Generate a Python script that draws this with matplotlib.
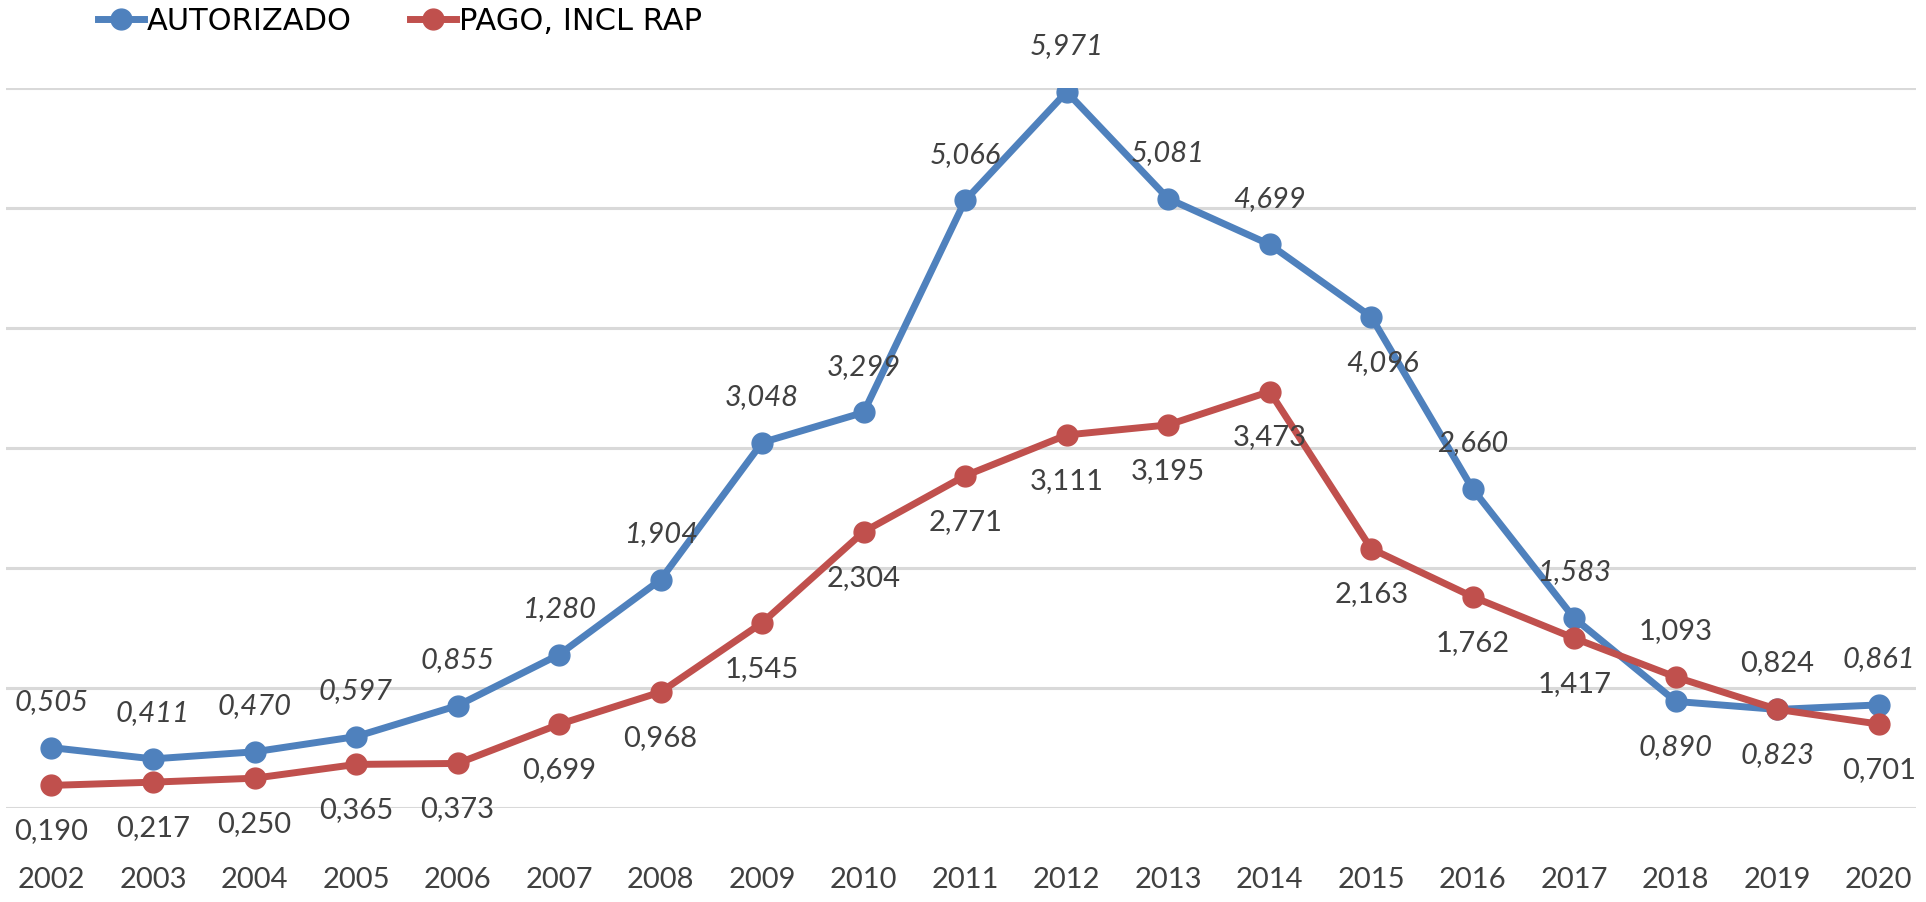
import numpy as np
import matplotlib.pyplot as plt
from matplotlib.lines import Line2D

# data
years = [str(y) for y in range(2002, 2021)]
autorizado = [0.505, 0.411, 0.470, 0.597, 0.855, 1.280, 1.904, 3.048, 3.299, 5.066,
              5.971, 5.081, 4.699, 4.096, 2.660, 1.583, 0.890, 0.823, 0.861]
pago = [0.190, 0.217, 0.250, 0.365, 0.373, 0.699, 0.968, 1.545, 2.304, 2.771,
        3.111, 3.195, 3.473, 2.163, 1.762, 1.417, 1.093, 0.824, 0.701]

# label side: +1 above, -1 below
aut_side = [1] * 13 + [-1, 1, 1, -1, -1, 1]
pago_side = [-1] * 16 + [1, 1, -1]

blue = '#4F81BD'
red = '#C0504D'
txt = '#404040'
font = ['Lato', 'DejaVu Sans']


def fmt(v):
    return f'{v:.3f}'.replace('.', ',')


def main():
    fig = plt.figure(figsize=(19.26, 9.02), dpi=100)
    ax = fig.add_axes([0.003, 0.104, 0.992, 0.798])
    x = np.arange(len(years))

    for yv in range(0, 7):
        ax.axhline(yv, color='#D9D9D9', lw=2.2, zorder=0)

    ax.plot(x, autorizado, color=blue, lw=5, marker='o', ms=15, zorder=3)
    ax.plot(x, pago, color=red, lw=5, marker='o', ms=15, zorder=4)

    # 2015 blue label sits right-below
    for i, (v, s) in enumerate(zip(autorizado, aut_side)):
        dx = 0
        if i == 13:
            dx = 8
        ax.annotate(fmt(v), (x[i], v), xytext=(dx, 33 * s), textcoords='offset points',
                    ha='center', va='center', fontsize=21, style='italic',
                    color=txt, family=font, annotation_clip=False, zorder=5)
    for i, (v, s) in enumerate(zip(pago, pago_side)):
        ax.annotate(fmt(v), (x[i], v), xytext=(0, 33 * s), textcoords='offset points',
                    ha='center', va='center', fontsize=21,
                    color=txt, family=font, annotation_clip=False, zorder=5)

    ax.set_xlim(-0.45, 18.37)
    ax.set_ylim(0, 6)
    ax.set_xticks(x)
    ax.set_xticklabels(years, fontsize=21, color=txt, family=font)
    ax.tick_params(axis='x', length=0, pad=42)
    ax.set_yticks([])
    for sp in ax.spines.values():
        sp.set_visible(False)

    handles = [
        Line2D([0], [0], color=blue, lw=5, marker='o', ms=15, label='AUTORIZADO'),
        Line2D([0], [0], color=red, lw=5, marker='o', ms=15, label='PAGO, INCL RAP'),
    ]
    fig.legend(handles=handles, loc='center left', bbox_to_anchor=(0.051, 0.976), ncol=2,
               frameon=False, handlelength=1.5, handletextpad=0.1, columnspacing=1.9,
               borderaxespad=0, borderpad=0,
               prop={'family': ['Liberation Sans Narrow', 'DejaVu Sans'], 'size': 22})

    fig.savefig('out.png', dpi=100, facecolor='white')


if __name__ == '__main__':
    main()
